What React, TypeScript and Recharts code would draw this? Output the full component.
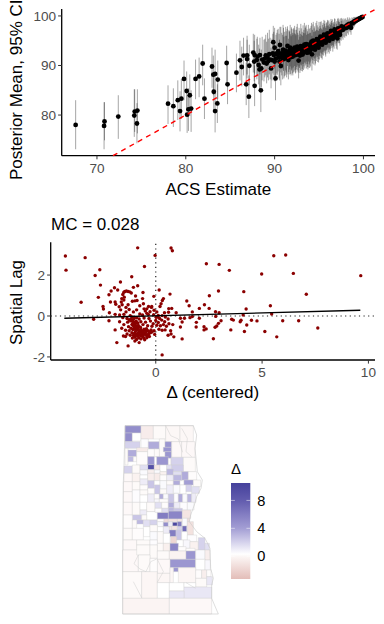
/**
 * Three stacked panels: posterior vs ACS scatter, Moran scatter of the change, tract map with colour bar
 */
import React from 'react';
import {
  ComposedChart,
  ScatterChart,
  Scatter,
  ErrorBar,
  XAxis,
  YAxis,
  ReferenceLine,
  ReferenceArea,
} from 'recharts';

const FONT = '"Liberation Sans", Arial, sans-serif';

// [acs, posterior mean, lower 95%, upper 95%]
const tailRows = [
  [67.6, 78.0, 73.1, 83.0],
  [70.8, 77.8, 73.1, 82.6],
  [70.85, 78.7, 74.9, 82.6],
  [72.4, 79.7, 75.2, 84.0],
  [74.2, 79.9, 75.6, 85.2],
  [74.25, 80.7, 76.6, 85.2],
  [74.55, 80.9, 76.3, 85.2],
  [74.5, 78.3, 74.3, 82.4],
];

const midRows = [
  [78.0, 82.3, 78.2, 86.0],
  [78.6, 81.8, 77.6, 85.4],
  [79.1, 83.0, 79.0, 87.0],
  [79.35, 80.8, 76.7, 84.8],
  [79.5, 83.3, 79.2, 87.3],
  [79.8, 87.3, 83.0, 91.0],
  [80.1, 84.85, 80.8, 88.8],
  [80.15, 80.07, 76.4, 84.0],
  [80.3, 81.15, 76.8, 85.4],
  [80.45, 84.0, 79.8, 88.2],
  [80.6, 81.3, 76.6, 85.0],
  [81.1, 87.3, 83.2, 91.2],
  [81.5, 87.8, 83.6, 91.6],
  [81.9, 90.4, 86.0, 94.2],
  [82.1, 83.3, 79.2, 87.4],
  [82.95, 89.8, 85.5, 93.6],
  [83.1, 88.15, 84.0, 92.0],
  [83.15, 84.7, 80.6, 88.6],
  [83.3, 88.3, 84.2, 93.2],
  [83.3, 80.8, 76.5, 85.0],
  [83.55, 82.35, 78.4, 86.2],
  [83.6, 87.15, 83.2, 91.0],
  [84.6, 90.5, 86.4, 94.0],
  [84.7, 86.2, 82.2, 90.4],
  [85.7, 88.55, 84.6, 92.4],
  [86.1, 91.05, 87.0, 95.0],
  [86.3, 89.7, 85.8, 93.8],
  [86.5, 92.0, 88.0, 95.6],
  [86.8, 86.2, 82.0, 90.6],
  [86.9, 92.05, 88.2, 96.0],
  [86.9, 91.3, 87.4, 95.2],
  [87.15, 89.95, 86.0, 94.2],
  [87.1, 83.7, 79.4, 88.0],
  [87.75, 85.9, 81.8, 90.0],
  [87.6, 92.6, 88.6, 96.4],
  [87.75, 92.1, 88.4, 96.2],
  [87.7, 90.8, 86.8, 95.0],
  [88.05, 91.8, 87.8, 95.8],
  [88.2, 90.1, 86.2, 94.2],
  [88.0, 91.1, 87.2, 95.4],
  [88.45, 85.0, 80.6, 89.6],
  [88.3, 89.2, 85.2, 93.4],
  [88.5, 89.4, 85.6, 93.2],
  [88.35, 92.1, 88.2, 95.6],
  [89.0, 92.05, 88.0, 96.2],
  [89.1, 90.4, 86.4, 94.8],
  [88.9, 91.4, 87.6, 95.4],
  [89.6, 89.4, 85.4, 93.6],
  [89.85, 94.7, 90.4, 98.0],
  [90.0, 93.6, 89.4, 97.6],
  [89.8, 92.45, 88.4, 96.4],
  [90.1, 87.4, 83.0, 91.8],
  [89.7, 91.1, 87.0, 95.4],
  [90.0, 90.8, 86.8, 95.0],
  [90.6, 94.15, 90.2, 97.8],
  [90.7, 89.9, 86.0, 94.4],
  [90.25, 92.45, 88.4, 96.6],
];

const denseLowRows = [
  [90.3, 92.2, 88.1, 97.2], [90.5, 91.6, 87.4, 96.4], [90.7, 92.4, 88.6, 97.8], [90.9, 91.3, 87.2, 96.2],
  [91.0, 92.8, 88.9, 97.6], [91.1, 92.1, 87.8, 96.8], [91.2, 91.8, 88.0, 96.0], [91.3, 92.6, 88.6, 96.9],
  [91.4, 92.3, 88.2, 97.4], [91.45, 93.95, 89.9, 97.9], [91.55, 91.1, 87.2, 95.4], [91.6, 92.7, 88.7, 97.1],
  [91.7, 93.1, 89.2, 97.0], [91.8, 92.2, 88.3, 96.3], [91.9, 92.9, 89.0, 97.7], [92.0, 92.4, 88.4, 96.6],
  [92.1, 93.3, 89.6, 97.3], [92.2, 92.7, 88.8, 96.5], [92.3, 93.0, 89.1, 97.2], [92.4, 92.2, 88.6, 96.1],
  [92.5, 93.4, 89.7, 97.8], [92.6, 92.8, 89.0, 96.6], [92.7, 91.0, 87.4, 95.2], [92.8, 93.2, 89.5, 97.0],
  [92.9, 92.6, 89.0, 96.4], [93.0, 93.6, 90.0, 97.5], [93.05, 92.4, 88.9, 96.2], [93.1, 93.0, 89.3, 96.8],
  [93.2, 93.9, 90.3, 98.1], [93.25, 92.7, 89.1, 96.6], [93.3, 93.3, 89.8, 97.2], [93.4, 92.9, 89.4, 96.5],
  [93.45, 94.1, 90.4, 97.6], [93.5, 93.5, 90.0, 97.9], [93.6, 92.6, 89.4, 96.2], [93.65, 93.8, 90.3, 97.3],
  [93.7, 93.2, 89.7, 96.9], [93.8, 94.2, 90.8, 98.2], [93.85, 93.0, 89.6, 96.4], [93.9, 93.7, 90.2, 97.4],
  [94.0, 94.0, 90.6, 97.6], [94.05, 93.2, 89.8, 96.6], [94.1, 94.4, 91.0, 98.0], [94.2, 92.25, 89.0, 96.0],
  [94.25, 93.8, 90.4, 97.2], [94.3, 94.5, 91.1, 98.3], [94.4, 93.4, 90.2, 96.8], [94.45, 94.2, 90.9, 97.5],
  [94.5, 94.7, 91.4, 97.9], [94.6, 93.7, 90.4, 97.0], [94.65, 94.9, 91.6, 98.6], [94.7, 94.1, 90.9, 97.2],
  [94.8, 95.0, 91.7, 98.1], [94.85, 93.9, 90.7, 97.1], [94.9, 94.6, 91.3, 97.7], [95.0, 95.2, 92.0, 98.8],
];

const denseExtraRows = [
  [88.6, 91.2, 87.0, 95.8], [88.8, 90.6, 86.8, 95.2], [89.2, 91.7, 87.6, 96.6], [89.3, 90.9, 87.0, 95.4],
  [89.4, 92.3, 88.2, 97.2], [89.5, 91.2, 87.2, 95.6], [89.9, 92.1, 88.0, 96.8], [90.15, 91.4, 87.4, 96.2],
  [90.4, 92.9, 88.8, 97.4], [90.55, 90.8, 87.0, 95.2], [90.8, 92.0, 88.0, 96.6], [90.95, 93.2, 89.2, 98.2],
  [91.05, 91.3, 87.4, 95.8], [91.25, 93.0, 89.0, 97.8], [91.35, 91.6, 87.6, 96.0], [91.65, 92.0, 88.2, 96.8],
  [91.75, 93.6, 89.8, 98.2], [91.85, 91.7, 88.0, 95.9], [91.95, 93.2, 89.4, 97.4], [92.05, 91.8, 88.0, 96.2],
  [92.15, 92.4, 88.6, 97.6], [92.25, 93.6, 89.9, 98.0], [92.35, 92.1, 88.4, 96.4], [92.45, 92.9, 89.2, 97.2],
  [92.55, 93.8, 90.0, 98.4], [92.65, 92.2, 88.6, 96.2], [92.75, 93.5, 89.8, 97.6], [92.85, 92.0, 88.5, 95.8],
  [92.95, 93.9, 90.2, 98.4], [93.15, 92.2, 88.8, 96.0], [93.35, 94.2, 90.6, 98.6], [93.55, 94.3, 90.8, 98.2],
  [93.75, 92.6, 89.2, 96.4], [93.95, 92.8, 89.5, 96.6], [94.15, 94.8, 91.4, 98.6], [94.35, 95.0, 91.6, 98.8],
  [94.55, 93.2, 90.0, 96.8], [94.75, 95.3, 92.0, 99.0], [94.95, 93.6, 90.6, 97.0], [95.15, 95.8, 92.6, 98.8],
  [95.35, 94.2, 91.2, 97.2], [95.55, 96.2, 93.0, 99.2], [95.75, 94.6, 91.8, 97.6], [95.95, 96.5, 93.6, 99.2],
  [96.15, 95.0, 92.4, 97.8], [96.35, 97.0, 94.2, 99.4], [96.55, 95.4, 92.8, 98.0], [96.75, 97.3, 94.8, 99.5],
  [96.95, 95.9, 93.4, 98.4], [97.15, 97.5, 95.0, 99.6], [97.35, 96.2, 94.0, 98.4], [97.55, 97.9, 95.8, 99.6],
];

const denseHighRows = [
  [95.05, 94.3, 91.2, 97.4], [95.1, 95.0, 91.9, 98.0], [95.2, 94.7, 91.6, 97.6], [95.25, 95.5, 92.4, 98.9],
  [95.3, 94.5, 91.5, 97.4], [95.4, 95.2, 92.2, 98.2], [95.45, 95.7, 92.7, 98.6], [95.5, 94.9, 92.0, 97.7],
  [95.6, 95.5, 92.6, 98.4], [95.65, 96.0, 93.0, 99.0], [95.7, 95.1, 92.2, 97.9], [95.8, 95.8, 93.0, 98.5],
  [95.85, 96.2, 93.2, 98.7], [95.9, 95.3, 92.4, 98.0], [96.0, 96.0, 93.2, 98.9], [96.05, 95.5, 92.7, 98.1],
  [96.1, 96.4, 93.6, 99.1], [96.2, 95.9, 93.2, 98.4], [96.25, 96.2, 93.4, 98.7], [96.3, 95.6, 92.9, 98.2],
  [96.4, 96.6, 93.9, 99.0], [96.45, 96.1, 93.5, 98.6], [96.5, 96.8, 94.1, 99.3], [96.6, 96.2, 93.7, 98.5],
  [96.65, 96.6, 94.0, 98.8], [96.7, 96.0, 93.4, 98.3], [96.8, 97.0, 94.4, 99.4], [96.9, 96.5, 94.0, 98.7],
  [97.0, 96.9, 94.5, 99.0], [97.05, 95.5, 93.2, 97.8], [97.1, 97.1, 94.7, 99.4], [97.2, 96.8, 94.5, 98.9],
  [97.25, 97.3, 95.0, 99.3], [97.3, 96.7, 94.5, 98.8], [97.4, 97.4, 95.2, 99.5], [97.5, 97.1, 95.0, 99.0],
  [97.6, 97.6, 95.5, 99.4], [97.7, 97.2, 95.2, 99.1], [97.8, 97.7, 95.8, 99.5], [97.9, 97.5, 95.6, 99.3],
  [98.0, 97.9, 96.0, 99.5], [98.1, 97.6, 95.9, 99.2], [98.2, 98.2, 96.5, 99.7], [98.3, 97.8, 96.2, 99.3],
  [98.4, 98.4, 96.9, 99.7], [98.5, 98.1, 96.7, 99.5], [98.6, 97.6, 96.2, 99.0], [98.7, 98.6, 97.4, 99.7],
  [98.8, 98.5, 97.3, 99.6], [98.9, 98.8, 97.7, 99.8], [99.0, 98.9, 97.9, 99.8], [99.1, 99.0, 98.2, 99.8],
  [99.2, 99.1, 98.4, 99.8], [99.3, 99.2, 98.6, 99.9], [99.4, 99.3, 98.8, 99.9], [99.5, 99.4, 99.0, 99.9],
  [99.6, 99.5, 99.1, 99.9], [99.7, 99.6, 99.3, 100], [99.8, 99.7, 99.5, 100], [99.9, 99.8, 99.6, 100],
];

const posteriorData = [...tailRows, ...midRows, ...denseLowRows, ...denseExtraRows, ...denseHighRows].map(([acs, mean, lo, hi]) => ({
  acs,
  mean,
  ci: [mean - lo, hi - mean],
}));

const acsTicks = [70, 80, 90, 100];
const meanTicks = [80, 90, 100];
const parityEnds = [71.8, 101.3];
const parityData = parityEnds.map((v) => ({ acs: v, mean: v }));

// [centered change, spatial lag]
const moranSparse = [
  [-4.25, 2.93], [-4.22, 2.24], [-3.32, 2.85], [-2.85, 1.98], [-2.63, 2.26], [-2.6, 1.51], [-3.51, 0.67], [-2.7, 0.91],
  [-2.92, -0.16], [-2.48, 0.46], [-2.46, 0.34], [-2.2, 1.04], [-2.1, 1.22], [-1.94, 1.38], [-1.79, 1.27], [-1.66, 1.66],
  [-2.18, 0.16], [-2.2, -0.23], [-2.13, 0.68], [-1.91, 0.68], [-1.88, 0.57], [-1.91, 0.08], [-1.91, -0.68], [-1.83, -1.3],
  [-1.3, -1.46], [-1.13, 1.92], [-0.85, 3.33], [-0.53, 2.42], [-0.03, 2.96], [0.72, 3.32], [0.78, 3.19], [0.3, -1.9],
  [2.38, 2.55], [2.98, 2.52], [3.46, 2.23], [4.98, 2.05], [5.55, 2.94], [6.11, 2.98], [6.47, 2.08], [9.64, 1.97],
  [7.08, 1.06], [4.14, 1.19], [2.95, 1.22], [2.52, 0.99], [0.67, 1.07], [0.16, 1.27], [-0.09, 0.96], [1.46, 0.73],
  [1.57, 0.5], [2.29, 0.55], [2.05, 0.37], [2.51, 0.37], [1.72, 0.2], [2.81, 0.21], [2.98, 0.16], [5.39, 0.5],
  [5.45, 0.1], [4.25, 0.34], [4.11, 0.05], [5.97, -0.23], [6.72, -0.23], [7.62, -0.59], [5.69, -1.02], [5.13, -0.76],
  [4.76, -0.24], [4.5, -0.21], [4.28, -0.44], [4.17, -0.76], [4.01, -0.21], [3.97, -0.28], [3.65, -0.2], [3.57, -0.16],
  [3.53, -0.68], [3.07, -0.23], [2.95, -0.36], [2.87, -0.49], [2.79, -0.55], [2.71, -1.11], [2.82, -0.02], [2.37, -0.63],
  [2.27, -0.52], [2.27, -0.68], [2.05, -0.11], [1.91, -0.31], [1.9, -0.54], [1.72, -0.03], [1.61, -0.08], [1.35, -0.11],
  [1.16, -0.11], [1.24, -0.29], [1.16, -0.54], [1.24, -1.12], [0.96, 0.16], [0.6, 0.18], [0.75, 0.37], [0.61, 0.36],
  [0.36, 0.85], [0.31, 0.76], [0.25, 0.6], [0.41, 0.16], [0.05, 0.2], [0.2, 0.46], [-0.27, 0.21], [-0.19, 0.46],
  [-0.34, 0.46], [-0.49, 0.24], [-0.42, 0.13],
];

const moranCluster = [
  // ring above the line
  [-1.5, 1.16], [-1.45, 1.2], [-1.38, 1.22], [-1.3, 1.2], [-1.22, 1.18], [-1.55, 1.05], [-1.48, 0.92], [-1.5, 0.78],
  [-1.62, 0.68], [-1.58, 0.55], [-1.15, 1.12], [-1.05, 1.4], [-0.85, 1.48], [-0.6, 1.15], [-0.95, 0.98], [-1.1, 0.72],
  [-0.98, 0.74], [-0.88, 0.76], [-1.3, 0.55], [-1.4, 0.42], [-1.72, 0.45], [-1.65, 0.3], [-1.25, 0.32], [-0.75, 0.5],
  [-0.62, 0.85], [-0.58, 0.6], [-0.2, 0.42], [-0.08, 0.28], [-0.55, 0.35], [-0.9, 0.3], [-1.05, 0.2], [-1.5, 0.08],
  [-1.7, 0.05], [-1.2, 0.02], [-0.75, 0.1], [-0.62, 0.05], [-0.35, 0.08], [-0.1, 0.06], [0.12, 0.03], [0.3, 0.02],
  // core below the line
  [-1.55, -0.08], [-1.35, -0.12], [-1.12, -0.05], [-1.02, -0.12], [-0.9, -0.08], [-0.78, -0.15], [-0.55, -0.1], [-0.32, -0.12],
  [-1.7, -0.28], [-1.5, -0.42], [-1.32, -0.3], [-1.18, -0.24], [-1.08, -0.22], [-1.0, -0.3], [-0.92, -0.26], [-0.84, -0.34],
  [-0.7, -0.28], [-0.48, -0.3], [-0.25, -0.25], [0.0, -0.22], [0.12, -0.32], [0.28, -0.2], [0.42, -0.28], [0.58, -0.15],
  [-1.6, -0.6], [-1.42, -0.7], [-1.28, -0.52], [-1.12, -0.42], [-1.05, -0.48], [-0.98, -0.44], [-0.9, -0.52], [-0.82, -0.46],
  [-0.72, -0.55], [-0.6, -0.42], [-0.38, -0.48], [-0.18, -0.5], [0.05, -0.45], [0.22, -0.48], [0.36, -0.42], [0.5, -0.5],
  [0.62, -0.38], [-1.25, -0.72], [-1.16, -0.6], [-1.08, -0.66], [-1.0, -0.58], [-0.94, -0.68], [-0.86, -0.62], [-0.78, -0.72],
  [-0.7, -0.66], [-0.62, -0.76], [-0.52, -0.7], [-0.44, -0.62], [-0.34, -0.74], [-0.22, -0.68], [-0.08, -0.72], [0.15, -0.65],
  [0.3, -0.7], [0.44, -0.68], [0.7, -0.72], [-1.35, -0.88], [-1.2, -0.94], [-1.12, -0.82], [-1.03, -0.86], [-0.96, -0.78],
  [-0.9, -0.9], [-0.82, -0.84], [-0.74, -0.94], [-0.66, -0.86], [-0.58, -0.92], [-0.5, -0.84], [-0.42, -0.96], [-0.34, -0.88],
  [-0.25, -0.82], [-0.05, -0.9], [0.58, -0.94], [0.72, -0.88], [0.85, -1.02], [-1.42, -1.0], [-1.1, -1.08], [-0.98, -1.04],
  [-0.9, -1.15], [-0.8, -1.06], [-0.7, -1.12], [-0.6, -1.02], [-0.52, -1.16], [-0.42, -1.06], [-0.3, -1.0], [-0.98, -1.22],
  [-0.78, -1.3], [-1.52, -0.98], [0.02, -0.06], [0.18, -0.12], [-0.12, -0.38], [0.8, -0.42],
  // thicker part of the core
  [-1.02, -0.62], [-0.95, -0.5], [-0.88, -0.7], [-0.8, -0.55], [-0.75, -0.8], [-0.68, -0.72], [-0.6, -0.82], [-0.55, -0.65],
  [-0.47, -0.78], [-0.4, -0.7], [-0.3, -0.82], [-0.18, -0.78], [-1.05, -0.95], [-0.97, -0.92], [-0.86, -0.98], [-0.77, -0.9],
  [-0.68, -0.98], [-0.56, -1.08], [-0.47, -0.92], [-0.36, -0.95], [-1.08, -0.35], [-1.0, -0.4], [-0.93, -0.36], [-1.15, -0.15],
  [-1.25, -0.18], [-1.4, 0.2], [-1.6, 0.85], [-0.42, 0.35], [0.1, -0.05], [0.45, -0.05],
];

const moranData = [...moranSparse, ...moranCluster].map(([delta, lag]) => ({ delta, lag }));

const fitDelta = [-4.3, 9.62];
const fitLag = [-0.11, 0.28];
const fitData = fitDelta.map((delta, i) => ({ delta, lag: fitLag[i] }));
const deltaTicks = [0, 5, 10];
const lagTicks = [-2, 0, 2];

// map outline and tracts, in map units running east and south
const countyEdge = [
  [75, 32], [280, 32], [290, 60], [285, 100], [292, 170], [307, 195], [303, 220], [290, 245], [283, 270], [272, 300],
  [268, 320], [290, 350], [315, 370], [330, 400], [332, 460], [340, 490], [335, 510], [335, 550], [355, 597], [68, 597],
  [68, 400], [70, 200], [72, 150], [75, 32],
];

// boundaries that do not run north-south or east-west
const slantedEdges = [
  [[197, 32], [212, 62], [235, 72], [248, 112]],
  [[245, 40], [262, 70], [258, 110], [275, 125]],
  [[115, 420], [102, 446], [120, 462], [138, 470]],
  [[138, 470], [152, 440], [170, 432]],
  [[100, 500], [125, 548]],
  [[172, 433], [190, 470], [172, 502]],
  [[258, 503], [287, 520]],
];

const tractsNorth = [
  [75, 32, 123, 54, 5], [75, 54, 97, 80, 5], [97, 54, 123, 78, 0.3], [123, 32, 160, 72, -0.6], [160, 32, 197, 72, 0.1],
  [197, 32, 240, 80, 0], [240, 32, 280, 80, 0], [75, 80, 120, 100, 2], [123, 72, 145, 100, 0.4], [145, 80, 178, 102, 3.5],
  [178, 72, 195, 125, 0.1], [195, 80, 215, 97, 4.5], [190, 97, 215, 110, 4.5], [195, 110, 215, 130, 4.5], [215, 80, 245, 127, 0.05],
  [245, 80, 285, 127, 0.05], [75, 100, 84, 150, 0.1], [84, 105, 110, 125, 3.5], [84, 125, 100, 140, 3], [100, 125, 110, 140, 0.1],
  [110, 98, 145, 110, -0.7], [110, 110, 143, 150, 0.2], [143, 102, 170, 125, 0.2], [143, 125, 163, 149, 4.5], [143, 149, 163, 164, 9],
  [163, 102, 178, 125, 0.1], [170, 125, 205, 150, 4.5], [205, 130, 213, 150, 0.2], [213, 127, 250, 150, 2], [250, 127, 286, 170, 0.1],
];

const tractsMid = [
  [72, 153, 97, 175, 2], [97, 150, 120, 175, 0.1], [120, 150, 143, 165, 1.5], [120, 165, 143, 180, 0.5], [163, 150, 180, 165, -0.9],
  [180, 150, 200, 170, 0.3], [200, 150, 215, 162, 1.5], [215, 150, 250, 170, 2.2], [143, 164, 163, 175, -0.5], [163, 165, 180, 175, 0.5],
  [180, 170, 200, 180, -0.3], [200, 162, 220, 180, 3], [220, 170, 245, 180, 1.5], [245, 170, 265, 195, 3.5], [265, 170, 290, 195, 0.2],
  [72, 175, 97, 200, 0.05], [97, 175, 120, 200, -0.3], [120, 180, 143, 192, 0.3], [143, 175, 163, 197, -0.5], [163, 175, 180, 197, -0.7],
  [180, 180, 200, 197, 0.2], [200, 180, 220, 197, 1], [220, 180, 245, 197, 3], [70, 200, 97, 230, 0.05], [97, 200, 120, 225, 0.1],
  [120, 192, 143, 210, 1], [143, 197, 163, 220, 2.5], [163, 197, 180, 210, 0.3], [180, 197, 200, 222, 0.5], [200, 197, 220, 210, 0.1],
  [220, 197, 240, 210, 3.5], [240, 197, 252, 210, 0.3], [252, 195, 280, 210, 4], [280, 195, 302, 215, 0.1], [120, 210, 143, 225, 0.2],
  [163, 210, 180, 237, 2.5], [143, 220, 163, 237, 0.2], [180, 222, 200, 237, 0.1], [200, 210, 220, 237, 1], [220, 210, 240, 235, 0.5],
  [240, 210, 258, 237, 0.3], [258, 210, 275, 230, 2], [275, 215, 298, 235, 1.5], [70, 230, 97, 262, 0.05], [97, 225, 120, 262, 0.4],
  [120, 225, 143, 240, 0.1], [120, 240, 143, 262, 0.3], [143, 237, 163, 262, 1], [163, 237, 178, 252, 0.2], [163, 252, 178, 262, 0.6],
  [178, 237, 190, 252, 3.5], [190, 237, 205, 252, 0.5], [178, 252, 205, 262, 0.2], [205, 237, 222, 262, 2.5], [222, 235, 235, 262, 0.4],
  [235, 237, 248, 262, 3.5], [248, 237, 262, 262, 0.5], [262, 237, 275, 262, 3], [275, 235, 288, 262, 1],
];

const tractsCentre = [
  [70, 262, 97, 300, 0.05], [97, 262, 120, 300, 0.1], [120, 262, 140, 285, 0.3], [140, 262, 165, 290, 0.1], [165, 262, 185, 280, 1.5],
  [185, 262, 205, 280, 0.2], [205, 262, 222, 278, 3.5], [222, 262, 240, 280, 1], [240, 262, 262, 285, 0.4], [262, 262, 282, 285, 0.5],
  [120, 285, 140, 300, 1], [140, 290, 172, 315, 0.3], [172, 292, 205, 312, 6], [205, 288, 247, 312, 5.5], [185, 280, 205, 292, 1.5],
  [205, 278, 222, 288, 3], [222, 280, 247, 288, 2.5], [165, 280, 185, 292, 0.4], [247, 285, 272, 310, -1], [97, 300, 125, 315, 2.5], [70, 300, 97, 340, 0.2],
  [125, 300, 140, 315, 0.1], [110, 315, 130, 327, 3], [97, 315, 110, 340, 0.1], [130, 315, 150, 335, 1.5], [150, 315, 172, 330, 2],
  [172, 312, 192, 320, 0.2], [192, 312, 205, 322, -1.5], [205, 312, 232, 320, -1.2], [232, 312, 247, 320, -1], [247, 310, 262, 333, 0.5],
  [262, 310, 268, 320, -1.5], [262, 320, 280, 360, -1.2], [172, 320, 190, 335, 0.5], [190, 322, 205, 335, 5], [205, 320, 218, 335, 1],
  [218, 322, 232, 333, 10], [232, 320, 245, 335, 6], [205, 335, 215, 345, -1], [215, 333, 232, 345, -1], [232, 335, 247, 345, 2],
  [247, 333, 260, 350, 7], [172, 335, 190, 350, 0.3], [190, 335, 208, 355, 1], [208, 345, 228, 365, 6], [228, 345, 245, 375, 2.5],
  [245, 350, 262, 375, 0.3], [262, 360, 290, 380, 0.4], [130, 335, 150, 365, 0.3], [150, 330, 172, 350, 0.1], [70, 340, 97, 375, 0.1],
  [97, 340, 130, 375, 0.2], [150, 350, 172, 375, 0.5], [172, 350, 190, 385, 0.1], [190, 355, 210, 385, 0.3], [212, 365, 230, 385, -1.8],
];

const tractsSouth = [
  [230, 375, 250, 395, 0.3], [250, 375, 270, 400, 0.6], [270, 380, 295, 405, -0.3], [295, 368, 315, 405, 2], [315, 385, 328, 405, 1.5],
  [70, 375, 110, 405, 0.05], [110, 375, 150, 390, 0.1], [150, 375, 172, 390, 0.4], [172, 385, 190, 408, 0.1], [190, 385, 210, 408, -0.4],
  [210, 385, 235, 408, 5.5], [235, 395, 258, 408, 0.2], [258, 400, 285, 408, 0.2], [68, 405, 115, 470, 0.05], [110, 390, 150, 420, 0.1],
  [150, 390, 172, 430, 0.1], [172, 408, 208, 433, 0.1], [208, 408, 258, 433, -0.2], [258, 408, 287, 433, 4.5], [210, 433, 287, 458, 4.5],
  [220, 458, 235, 470, 4.5], [287, 405, 315, 433, 0.5], [315, 405, 330, 435, -0.5], [287, 433, 315, 465, 0.3], [315, 435, 331, 465, 0.6],
  [172, 433, 210, 475, 0.05], [115, 420, 150, 470, 0.1], [150, 430, 172, 475, 0.2], [68, 470, 125, 550, 0.1], [125, 470, 172, 550, -0.05],
  [172, 475, 210, 503, -0.05], [210, 458, 220, 503, -0.05], [235, 458, 287, 503, -0.05], [287, 465, 305, 490, 0.2], [305, 465, 320, 490, -0.5],
  [320, 465, 333, 485, 0.2], [287, 490, 320, 516, 0.1], [320, 485, 337, 510, 1.2], [172, 503, 208, 550, 0.3], [208, 503, 252, 528, 0.3],
  [252, 516, 335, 550, 1.2], [252, 503, 287, 516, 0.3], [208, 528, 252, 550, 1.2], [68, 550, 208, 597, -0.15], [208, 550, 335, 597, 0.05],
];

const tracts = [...tractsNorth, ...tractsMid, ...tractsCentre, ...tractsSouth];

const legendTicks = [0, 4, 8];
const legendDomain = [-3.27, 10.5];
const legendData = legendTicks.map((level) => ({ pos: 0.5, level }));

// colour ramp
const rampLevels = [-3.27, 0, 0.3, 2, 4, 6, 8, 10.5];
const rampColours = [
  [227, 189, 184], [252, 247, 246], [255, 255, 255], [213, 210, 236], [163, 158, 212], [131, 125, 194], [98, 92, 174], [69, 65, 156],
];

function deltaColor(d: number) {
  let i = 0;
  while (i < rampLevels.length - 2 && d > rampLevels[i + 1]) i += 1;
  const t = Math.max(0, Math.min(1, (d - rampLevels[i]) / (rampLevels[i + 1] - rampLevels[i])));
  const c = rampColours[i].map((v, k) => Math.round(v + (rampColours[i + 1][k] - v) * t));
  return `rgb(${c[0]},${c[1]},${c[2]})`;
}

const toMapPoints = (pts: number[][]) => pts.map(([east, south]) => ({ east, south }));

const axisLine = { stroke: '#000', strokeWidth: 1.3 };
const tickLine = { stroke: '#333', strokeWidth: 1 };
const tickStyle = { fill: '#4d4d4d', fontSize: 13.6, fontFamily: FONT };
const titleStyle = { fill: '#000', fontSize: 17, fontFamily: FONT };

function Panel({ left, top, children }: { left: number; top: number; children: React.ReactNode }) {
  return <div style={{ position: 'absolute', left, top }}>{children}</div>;
}

function CaptionText({ left, top, size, turned, children }: { left: number; top: number; size: number; turned?: boolean; children: React.ReactNode }) {
  return (
    <div
      style={{
        position: 'absolute',
        left,
        top,
        fontFamily: FONT,
        fontSize: size,
        lineHeight: 1,
        color: '#000',
        whiteSpace: 'nowrap',
        transformOrigin: '0 0',
        transform: turned ? 'rotate(-90deg)' : undefined,
      }}
    >
      {children}
    </div>
  );
}

const BlackDot = (p: any) => <circle cx={p.cx} cy={p.cy} r={2.4} fill="#000" />;
const RedDot = (p: any) => <circle cx={p.cx} cy={p.cy} r={1.7} fill="#8b0000" />;
const NoDot = () => <g />;

function PosteriorPanel() {
  return (
    <ComposedChart width={384} height={200} data={posteriorData} margin={{ top: 9, right: 9, bottom: 0, left: 0 }}>
      <XAxis
        type="number"
        dataKey="acs"
        domain={[66.03, 101.3]}
        ticks={acsTicks}
        axisLine={axisLine}
        tickLine={tickLine}
        tickSize={3.6}
        tickMargin={4}
        tick={tickStyle}
        height={44.3}
        label={{ value: 'ACS Estimate', position: 'insideBottom', offset: 5, style: titleStyle }}
      />
      <YAxis
        type="number"
        domain={[71.8, 101.4]}
        ticks={meanTicks}
        axisLine={axisLine}
        tickLine={tickLine}
        tickSize={3.6}
        tick={tickStyle}
        width={61.7}
      />
      <Scatter data={posteriorData} dataKey="mean" shape={BlackDot} isAnimationActive={false}>
        <ErrorBar dataKey="ci" direction="y" width={0} stroke="#000" strokeOpacity={0.42} strokeWidth={0.85} isAnimationActive={false} />
      </Scatter>
      {/* identity line on top of the points */}
      <Scatter
        data={parityData}
        dataKey="mean"
        line={{ stroke: '#ff0000', strokeWidth: 1.4, strokeDasharray: '5 4.5' }}
        shape={NoDot}
        isAnimationActive={false}
      />
    </ComposedChart>
  );
}

function MoranPanel() {
  return (
    <ComposedChart width={384} height={200} data={moranData} margin={{ top: 37.3, right: 9, bottom: 0, left: 0 }}>
      <XAxis
        type="number"
        dataKey="delta"
        domain={[-4.94, 10.31]}
        ticks={deltaTicks}
        axisLine={axisLine}
        tickLine={tickLine}
        tickSize={3.6}
        tickMargin={4}
        tick={tickStyle}
        height={45}
        label={{ value: 'Δ (centered)', position: 'insideBottom', offset: 7, style: titleStyle }}
      />
      <YAxis
        type="number"
        domain={[-2.15, 3.6]}
        ticks={lagTicks}
        axisLine={axisLine}
        tickLine={tickLine}
        tickSize={3.6}
        tick={tickStyle}
        width={50.7}
      />
      <ReferenceLine x={0} stroke="#222" strokeWidth={1.2} strokeDasharray="1.2 3.4" />
      <ReferenceLine y={0} stroke="#222" strokeWidth={1.2} strokeDasharray="1.2 3.4" />
      <Scatter data={moranData} dataKey="lag" shape={RedDot} isAnimationActive={false} />
      <Scatter data={fitData} dataKey="lag" line={{ stroke: '#000', strokeWidth: 1.3 }} shape={NoDot} isAnimationActive={false} />
    </ComposedChart>
  );
}

function TractMap() {
  return (
    <ScatterChart width={180} height={205} margin={{ top: 0, right: 0, bottom: 0, left: 0 }}>
      <XAxis type="number" dataKey="east" domain={[0, 540]} hide />
      <YAxis type="number" dataKey="south" domain={[0, 615]} reversed hide />
      {tracts.map(([x1, y1, x2, y2, d], i) => (
        <ReferenceArea
          key={i}
          x1={x1}
          x2={x2}
          y1={y1}
          y2={y2}
          fill={deltaColor(d)}
          fillOpacity={1}
          stroke="#cfcfcf"
          strokeWidth={0.4}
        />
      ))}
      {slantedEdges.map((pts, i) => (
        <Scatter key={i} data={toMapPoints(pts)} line={{ stroke: '#cfcfcf', strokeWidth: 0.5 }} shape={NoDot} isAnimationActive={false} />
      ))}
      <Scatter data={toMapPoints(countyEdge)} line={{ stroke: '#c8c8c8', strokeWidth: 0.6 }} shape={NoDot} isAnimationActive={false} />
    </ScatterChart>
  );
}

function ColourBar() {
  return (
    <ScatterChart width={60} height={96} margin={{ top: 0, right: 0, bottom: 0, left: 0 }}>
      <defs>
        <linearGradient id="deltaRamp" x1="0" y1="0" x2="0" y2="1">
          {rampLevels
            .slice()
            .reverse()
            .map((d) => (
              <stop
                key={d}
                offset={(legendDomain[1] - d) / (legendDomain[1] - legendDomain[0])}
                stopColor={deltaColor(d)}
              />
            ))}
        </linearGradient>
      </defs>
      <XAxis type="number" dataKey="pos" domain={[0, 1]} hide />
      <YAxis
        type="number"
        dataKey="level"
        orientation="right"
        domain={legendDomain}
        ticks={legendTicks}
        axisLine={false}
        tickLine={false}
        tickSize={0}
        tickMargin={7}
        width={40.7}
        tick={{ fill: '#000', fontSize: 14.6, fontFamily: FONT }}
      />
      <ReferenceArea x1={0} x2={1} y1={legendDomain[0]} y2={legendDomain[1]} fill="url(#deltaRamp)" fillOpacity={1} stroke="none" />
      {legendTicks.map((t) => (
        <ReferenceLine key={`l${t}`} segment={[{ x: 0, y: t }, { x: 0.2, y: t }]} stroke="#fff" strokeOpacity={0.5} strokeWidth={1} />
      ))}
      {legendTicks.map((t) => (
        <ReferenceLine key={`r${t}`} segment={[{ x: 0.8, y: t }, { x: 1, y: t }]} stroke="#fff" strokeOpacity={0.5} strokeWidth={1} />
      ))}
      <Scatter data={legendData} shape={NoDot} isAnimationActive={false} />
    </ScatterChart>
  );
}

export default function App() {
  return (
    <div style={{ position: 'absolute', left: 0, top: 0, width: 384, height: 624, background: '#fff', overflow: 'hidden' }}>
      <Panel left={0} top={0}>
        <PosteriorPanel />
      </Panel>
      <CaptionText left={8.3} top={180} size={17} turned>Posterior Mean, 95% CI</CaptionText>
      <Panel left={0} top={205}>
        <MoranPanel />
      </Panel>
      <CaptionText left={8.3} top={345} size={17} turned>Spatial Lag</CaptionText>
      <CaptionText left={51} top={215.6} size={17}>MC = 0.028</CaptionText>
      <Panel left={100} top={415}>
        <TractMap />
      </Panel>
      <CaptionText left={231} top={460.8} size={15}>Δ</CaptionText>
      <Panel left={230.7} top={482.7}>
        <ColourBar />
      </Panel>
    </div>
  );
}
